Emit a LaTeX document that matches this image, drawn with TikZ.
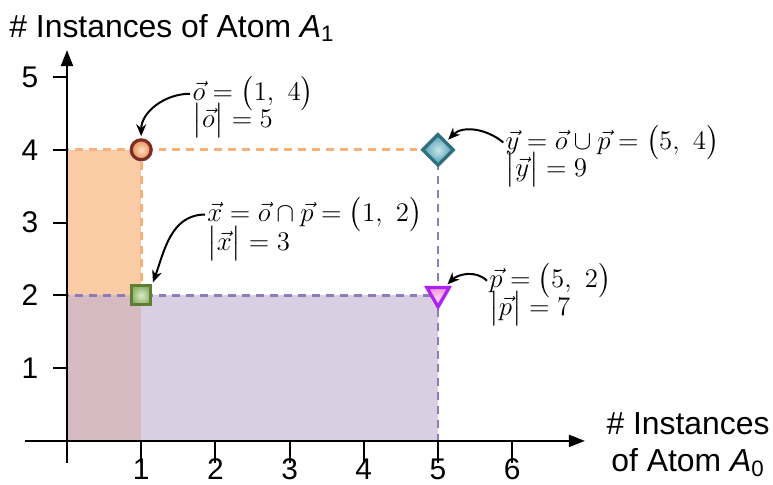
\documentclass[tikz,border=0pt]{standalone}
\usepackage{fix-cm}
\usepackage{fontspec}
\usepackage{amsmath}
\usetikzlibrary{arrows.meta, positioning, shapes.geometric, shadows}
\newfontfamily\axisfont{Liberation Sans}
\definecolor{OrangeFill}{HTML}{F9CCA6}
\definecolor{OrangeEdge}{HTML}{F8B07A}
\definecolor{PurpleFill}{HTML}{C0B2D2}
\definecolor{PurpleEdge}{HTML}{8E7CB8}
\definecolor{ODraw}{HTML}{7B2E24}
\definecolor{OInner}{HTML}{FCE0C8}
\definecolor{OOuter}{HTML}{EA8E55}
\definecolor{XDraw}{HTML}{5E7F32}
\definecolor{XInner}{HTML}{DCEBCB}
\definecolor{XOuter}{HTML}{8DB36A}
\definecolor{YDraw}{HTML}{2E6F7E}
\definecolor{YInner}{HTML}{C9E6EE}
\definecolor{YOuter}{HTML}{4E9AAE}
\definecolor{PDraw}{HTML}{B020F0}
\definecolor{PInner}{HTML}{FBD3F2}
\definecolor{POuter}{HTML}{EE8FDC}

\begin{document}
\begin{tikzpicture}[
  x=1.309cm, y=1.284cm,
  axis/.style={line width=1pt, -{Triangle[length=8pt, width=6pt]}},
  tick/.style={line width=1pt},
  ticklbl/.style={font=\axisfont\fontsize{15}{18}\selectfont, inner sep=1pt},
  axislbl/.style={font=\axisfont\fontsize{16}{19}\selectfont, align=center, inner sep=1pt},
  orangeline/.style={draw=OrangeEdge, line width=1.4pt, dash pattern=on 4pt off 3pt},
  purpleline/.style={draw=PurpleEdge, line width=1.4pt, dash pattern=on 4pt off 3pt},
  marker/.style={line width=1.6pt, inner sep=0pt,
                 drop shadow={shadow xshift=0.8pt, shadow yshift=-0.8pt, opacity=0.35}},
  vlbl/.style={font=\fontsize{13.5}{16}\selectfont, inner sep=1pt, anchor=west,
               text height=8pt, text depth=1pt},
  callout/.style={-{Stealth[length=6pt, width=5pt]}, line width=1pt, shorten >=1pt}
]
\useasboundingbox (-0.903,-0.604) rectangle (9.515,6.058);

% Regions
\fill[OrangeFill] (0,0) rectangle (1,4);
\fill[PurpleFill, fill opacity=0.62] (0,0) rectangle (5,2);
\draw[orangeline] (0,2) -- (0,4) -- (5,4);
\draw[orangeline] (1,2) -- (1,4);
\draw[purpleline] (0,0) rectangle (5,2);
\draw[purpleline] (5,2) -- (5,4);

% Axes
\draw[axis] (-0.57,0) -- (6.98,0);
\draw[axis] (0,-0.3) -- (0,5.37);
\foreach \i in {1,...,6}{
  \draw[tick] (\i,0) -- (\i,-0.3);
  \node[ticklbl] (xt\i) at (\i,-0.39) {\i};
}
\foreach \i in {1,...,5}{
  \draw[tick] (0,\i) -- (-0.19,\i);
  \node[ticklbl] (yt\i) at (-0.5,\i) {\i};
}
\node[axislbl] (ylabel) at (1.415,5.673) {\# Instances of Atom \textit{A}\textsubscript{1}};
\node[axislbl] (xlabel) at (8.37,-0.05) {\# Instances\\of Atom \textit{A}\textsubscript{0}};

% Points
\node[marker, circle, minimum size=10pt, draw=ODraw, inner color=OInner, outer color=OOuter] (o) at (1,4) {};
\node[marker, rectangle, minimum size=9.5pt, draw=XDraw, inner color=XInner, outer color=XOuter] (x) at (1,2) {};
\node[marker, diamond, minimum size=16pt, draw=YDraw, inner color=YInner, outer color=YOuter] (y) at (5,4) {};
\node[marker, regular polygon, regular polygon sides=3, shape border rotate=180, minimum size=13pt,
      draw=PDraw, inner color=PInner, outer color=POuter] (p) at (5,2.02) {};

% Labels
\node[vlbl] (olab) at (1.66,4.77) {$\vec{o}=\bigl(1,\ 4\bigr)$};
\node[vlbl] (olabn) at (1.66,4.40) {$\bigl|\vec{o}\bigr|=5$};
\node[vlbl] (ylab) at (5.88,4.10) {$\vec{y}=\vec{o}\cup\vec{p}=\bigl(5,\ 4\bigr)$};
\node[vlbl] (ylabn) at (5.88,3.73) {$\bigl|\vec{y}\bigr|=9$};
\node[vlbl] (xlab) at (1.86,3.11) {$\vec{x}=\vec{o}\cap\vec{p}=\bigl(1,\ 2\bigr)$};
\node[vlbl] (xlabn) at (1.86,2.71) {$\bigl|\vec{x}\bigr|=3$};
\node[vlbl] (plab) at (5.66,2.20) {$\vec{p}=\bigl(5,\ 2\bigr)$};
\node[vlbl] (plabn) at (5.66,1.82) {$\bigl|\vec{p}\bigr|=7$};

% Arrows
\draw[callout] (olab.west) to[out=180, in=90] (o.north);
\draw[callout] (ylab.west) to[out=140, in=45] (y.north east);
\draw[callout] (xlab.west) to[out=180, in=70] (x.north east);
\draw[callout] (plab.west) to[out=135, in=45] (p.north east);

\end{tikzpicture}
\end{document}
